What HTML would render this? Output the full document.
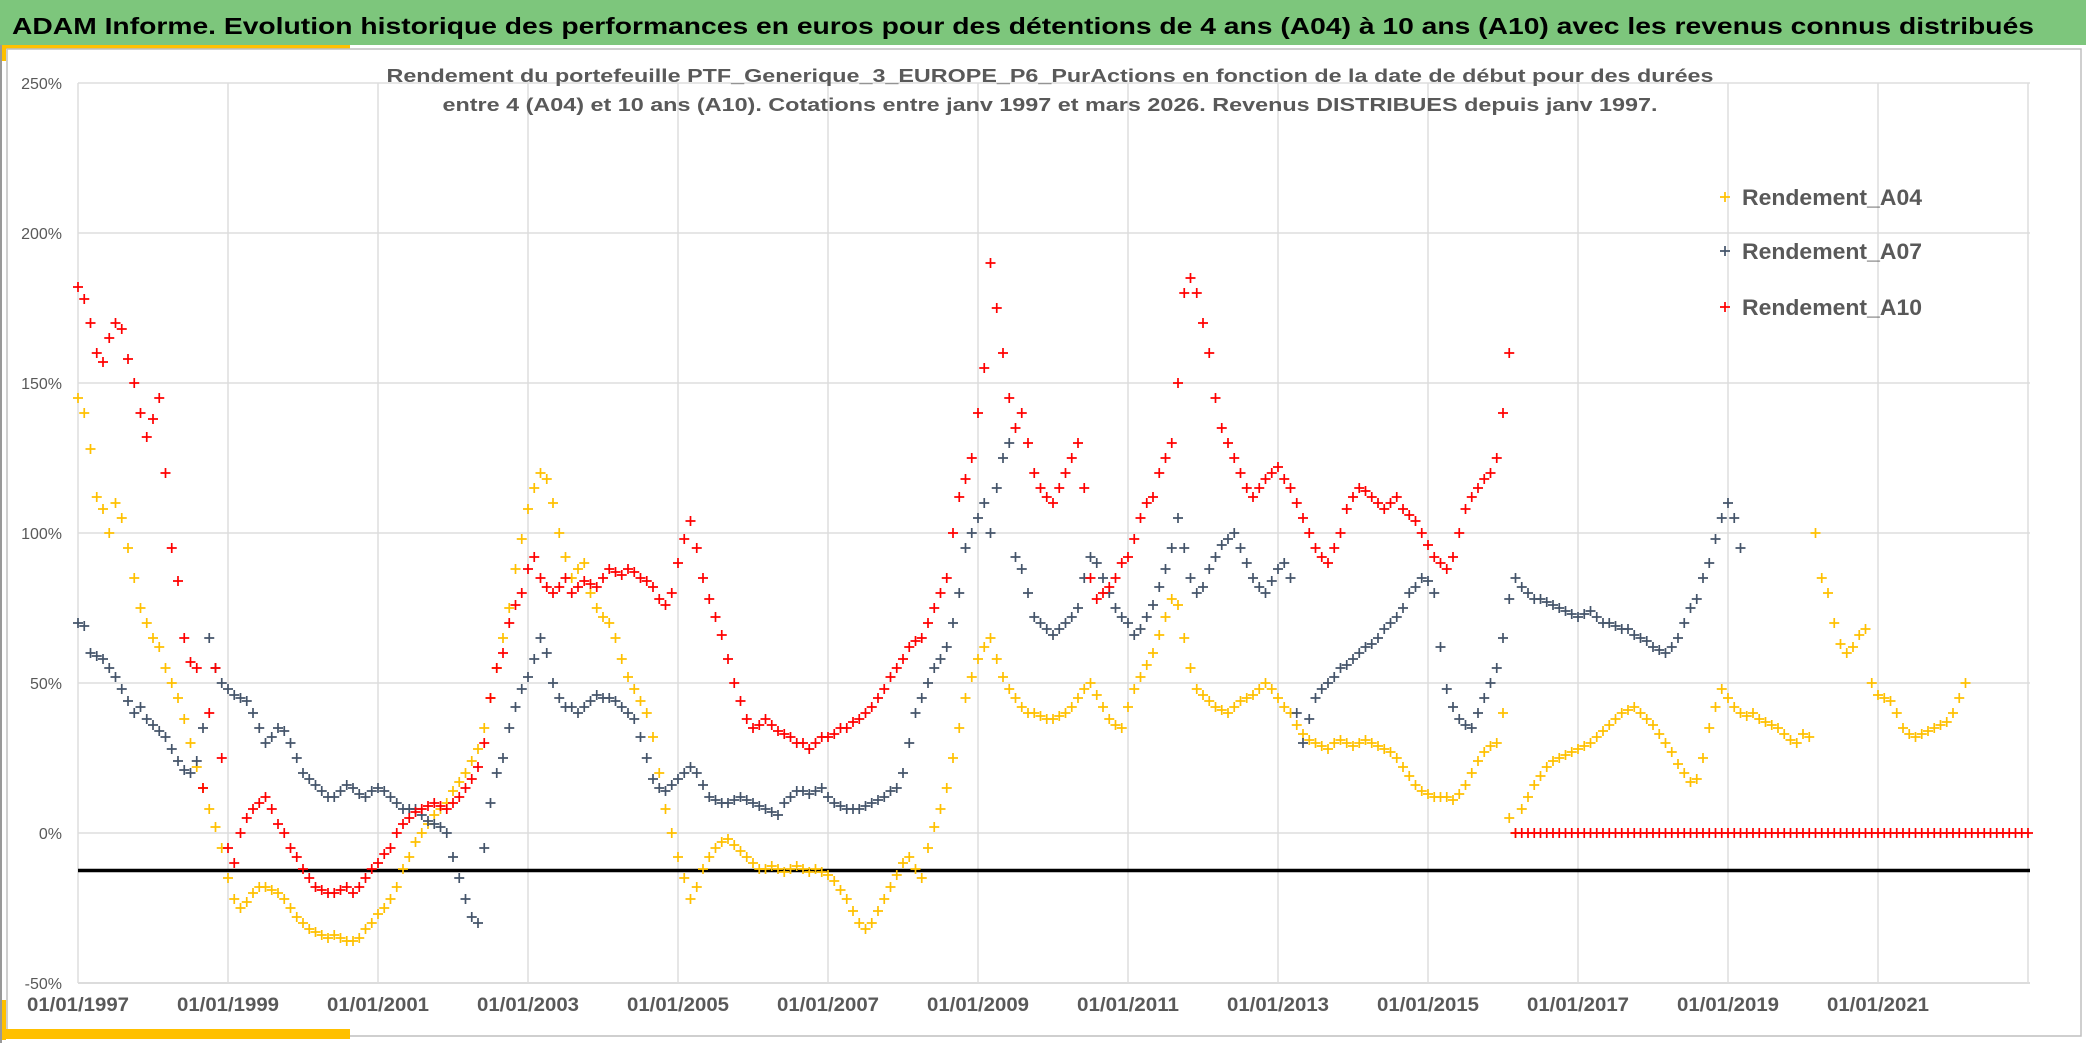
<!DOCTYPE html>
<html><head><meta charset="utf-8"><style>
html,body{margin:0;padding:0;background:#fff;}
svg{display:block;font-family:"Liberation Sans",sans-serif;}
</style></head><body>
<svg id="chart" width="2086" height="1043" viewBox="0 0 2086 1043" xmlns="http://www.w3.org/2000/svg">
<rect x="0" y="0" width="2086" height="1043" fill="#ffffff"/>
<rect x="0" y="0" width="2086" height="45" fill="#7DC67C"/>
<text x="12" y="34" font-size="23" font-weight="bold" fill="#000" textLength="2022" lengthAdjust="spacingAndGlyphs">ADAM Informe. Evolution historique des performances en euros pour des détentions de 4 ans (A04) à 10 ans (A10) avec les revenus connus distribués</text>
<rect x="0" y="45" width="350" height="4" fill="#FFC000"/>
<rect x="0" y="45" width="6" height="16" fill="#FFC000"/>
<rect x="7" y="49" width="2074" height="987" fill="none" stroke="#BFBFBF" stroke-width="1.5"/>
<rect x="0" y="1029" width="350" height="10" fill="#FFC000"/>
<rect x="0" y="1000" width="6" height="40" fill="#FFC000"/>
<line x1="1" y1="45" x2="1" y2="1043" stroke="#999" stroke-width="2"/>
<g id="grid"></g>
<text x="1050" y="82" text-anchor="middle" font-size="18" font-weight="bold" fill="#595959" textLength="1327" lengthAdjust="spacingAndGlyphs">Rendement du portefeuille PTF_Generique_3_EUROPE_P6_PurActions  en fonction de la date de début pour des durées</text>
<text x="1050" y="111" text-anchor="middle" font-size="18" font-weight="bold" fill="#595959" textLength="1215" lengthAdjust="spacingAndGlyphs">entre 4 (A04) et 10 ans (A10). Cotations entre janv 1997 et mars 2026. Revenus DISTRIBUES depuis janv 1997.</text>
<g id="marks"></g>
<g id="legend"></g>
</svg>
<script>
// ---- data (monthly samples, start Jan 1997) ----
const startYear = 1997;
const yTicks = [250, 200, 150, 100, 50, 0, -50];
const xTickYears = [1997, 1999, 2001, 2003, 2005, 2007, 2009, 2011, 2013, 2015, 2017, 2019, 2021];
const refLineValue = -12.5;
const seriesNames = ["Rendement_A04", "Rendement_A07", "Rendement_A10"];
const a04 = [
145,140,128,112,108,100,110,105,95,85,75,70,
65,62,55,50,45,38,30,22,15,8,2,-5,
-15,-22,-25,-23,-20,-18,-18,-19,-20,-22,-25,-28,
-30,-32,-33,-34,-35,-34,-35,-36,-36,-35,-32,-30,
-27,-25,-22,-18,-12,-8,-3,0,3,6,8,10,
14,17,20,24,28,35,45,55,65,75,88,98,
108,115,120,118,110,100,92,85,88,90,80,75,
72,70,65,58,52,48,44,40,32,20,8,0,
-8,-15,-22,-18,-12,-8,-5,-3,-2,-4,-6,-8,
-10,-12,-12,-11,-12,-13,-12,-11,-12,-13,-12,-13,
-14,-16,-19,-22,-26,-30,-32,-30,-26,-22,-18,-14,
-10,-8,-12,-15,-5,2,8,15,25,35,45,52,
58,62,65,58,52,48,45,42,40,40,39,38,
38,39,40,42,45,48,50,46,42,38,36,35,
42,48,52,56,60,66,72,78,76,65,55,48,
46,44,42,41,40,42,44,45,46,48,50,48,
45,42,40,36,33,31,30,29,28,30,31,30,
29,30,31,30,29,28,27,25,22,19,16,14,
13,12,12,12,11,13,16,20,24,27,29,30,
40,5,0,8,12,16,19,22,24,25,26,27,
28,29,30,32,34,36,38,40,41,42,40,38,
36,33,30,27,23,20,17,18,25,35,42,48,
45,42,40,39,40,38,37,36,35,33,31,30,
33,32,100,85,80,70,63,60,62,66,68,50,
46,45,44,40,35,33,32,33,34,35,36,37,
40,45,50
];
const a07 = [
70,69,60,59,58,55,52,48,44,40,42,38,
36,34,32,28,24,21,20,24,35,65,55,50,
48,46,45,44,40,35,30,32,35,34,30,25,
20,18,16,14,12,12,14,16,15,13,12,14,
15,14,12,10,8,8,8,6,4,3,2,0,
-8,-15,-22,-28,-30,-5,10,20,25,35,42,48,
52,58,65,60,50,45,42,42,40,42,44,46,
45,45,44,42,40,38,32,25,18,15,14,16,
18,20,22,20,16,12,11,10,10,11,12,11,
10,9,8,7,6,10,12,14,14,13,14,15,
12,10,9,8,8,8,9,10,11,12,14,15,
20,30,40,45,50,55,58,62,70,80,95,100,
105,110,100,115,125,130,92,88,80,72,70,68,
66,68,70,72,75,85,92,90,85,80,75,72,
70,66,68,72,76,82,88,95,105,95,85,80,
82,88,92,96,98,100,95,90,85,82,80,84,
88,90,85,40,30,38,45,48,50,52,55,56,
58,60,62,63,65,68,70,72,75,80,82,85,
84,80,62,48,42,38,36,35,40,45,50,55,
65,78,85,82,80,78,78,77,76,75,74,73,
72,73,74,72,70,70,69,68,68,66,65,64,
62,61,60,62,65,70,75,78,85,90,98,105,
110,105,95
];
const a10 = [
182,178,170,160,157,165,170,168,158,150,140,132,
138,145,120,95,84,65,57,55,15,40,55,25,
-5,-10,0,5,8,10,12,8,3,0,-5,-8,
-12,-15,-18,-19,-20,-20,-19,-18,-20,-18,-15,-12,
-10,-7,-5,0,3,5,7,8,9,10,9,8,
10,12,15,18,22,30,45,55,60,70,76,80,
88,92,85,82,80,82,85,80,82,84,83,82,
85,88,87,86,88,87,85,84,82,78,76,80,
90,98,104,95,85,78,72,66,58,50,44,38,
35,36,38,36,34,33,32,30,30,28,30,32,
32,33,35,35,37,38,40,42,45,48,52,55,
58,62,64,65,70,75,80,85,100,112,118,125,
140,155,190,175,160,145,135,140,130,120,115,112,
110,115,120,125,130,115,85,78,80,82,85,90,
92,98,105,110,112,120,125,130,150,180,185,180,
170,160,145,135,130,125,120,115,112,115,118,120,
122,118,115,110,105,100,95,92,90,95,100,108,
112,115,114,112,110,108,110,112,108,106,104,100,
96,92,90,88,92,100,108,112,115,118,120,125,
140,160,0,0,0,0,0,0,0,0,0,0,
0,0,0,0,0,0,0,0,0,0,0,0,
0,0,0,0,0,0,0,0,0,0,0,0,
0,0,0,0,0,0,0,0,0,0,0,0,
0,0,0,0,0,0,0,0,0,0,0,0,
0,0,0,0,0,0,0,0,0,0,0,0,
0,0,0,0,0,0,0,0,0,0,0,0,
0
];

// ---- axes ----
const X0 = 78, PX_PER_YEAR = 75, XEND = 2030;
const Y0 = 833, PX_PER_PCT = 3;
function xScale(year){ return X0 + (year - 1997) * PX_PER_YEAR; }
function yScale(v){ return Y0 - v * PX_PER_PCT; }
const NS = "http://www.w3.org/2000/svg";
function mk(tag, attrs, parent){
  const e = document.createElementNS(NS, tag);
  for (const k in attrs) e.setAttribute(k, attrs[k]);
  parent.appendChild(e); return e;
}
const grid = document.getElementById('grid');
yTicks.forEach(t => {
  const y = yScale(t);
  const l = mk('line', {x1: X0, x2: XEND, y1: y, y2: y, stroke: t === -50 ? '#D0D0D0' : '#DDDDDD', 'stroke-width': 1.5}, grid);
  
  
  const tx = mk('text', {x: 62, y: y + 6, 'text-anchor': 'end', 'font-size': 16, fill: '#595959'}, grid);
  tx.textContent = t + '%';
  
  
});
for (let yr = 1997; yr <= 2023; yr += 2) {
  const x = xScale(yr);
  const l = mk('line', {x1: x, x2: x, y1: yScale(250), y2: yScale(-50), stroke: '#DDDDDD', 'stroke-width': 1.5}, grid);
  
  
}
xTickYears.forEach(yr => {
  const tx = mk('text', {x: xScale(yr), y: 1011, 'text-anchor': 'middle', 'font-size': 19, 'font-weight': 'bold', fill: '#595959', textLength: 102, lengthAdjust: 'spacingAndGlyphs'}, grid);
  tx.textContent = '01/01/' + yr;
  
  
});
const ref = mk('line', {x1: X0, x2: XEND, y1: yScale(refLineValue), y2: yScale(refLineValue), stroke: '#000', 'stroke-width': 3.5}, grid);



// ---- series ----
const marks = document.getElementById('marks');
function plus(parent, x, y, color){
  const p = mk('path', {d: `M${x-5},${y}h10M${x},${y-5}v10`, stroke: color, 'stroke-width': 1.7, fill: 'none'}, parent);
  return p;
}
const colors = ['#FFC000', '#44546A', '#FF0000'];
[a04, a07, a10].forEach((arr, si) => {
  const g = mk('g', {}, marks);
  
  
  arr.forEach((v, i) => {
    const yr = startYear + i / 12;
    const p = plus(g, xScale(yr), yScale(v), colors[si]);
    
    
  });
});

// ---- legend ----
const legend = document.getElementById('legend');
const legendY = [197, 251, 307];
seriesNames.forEach((n, i) => {
  const p = plus(legend, 1725, legendY[i], colors[i]);
  
  
  const t = mk('text', {x: 1742, y: legendY[i] + 8, 'font-size': 22, 'font-weight': 'bold', fill: '#595959', textLength: 180, lengthAdjust: 'spacingAndGlyphs'}, legend);
  t.textContent = n;
  
  
});
</script>
</body></html>
